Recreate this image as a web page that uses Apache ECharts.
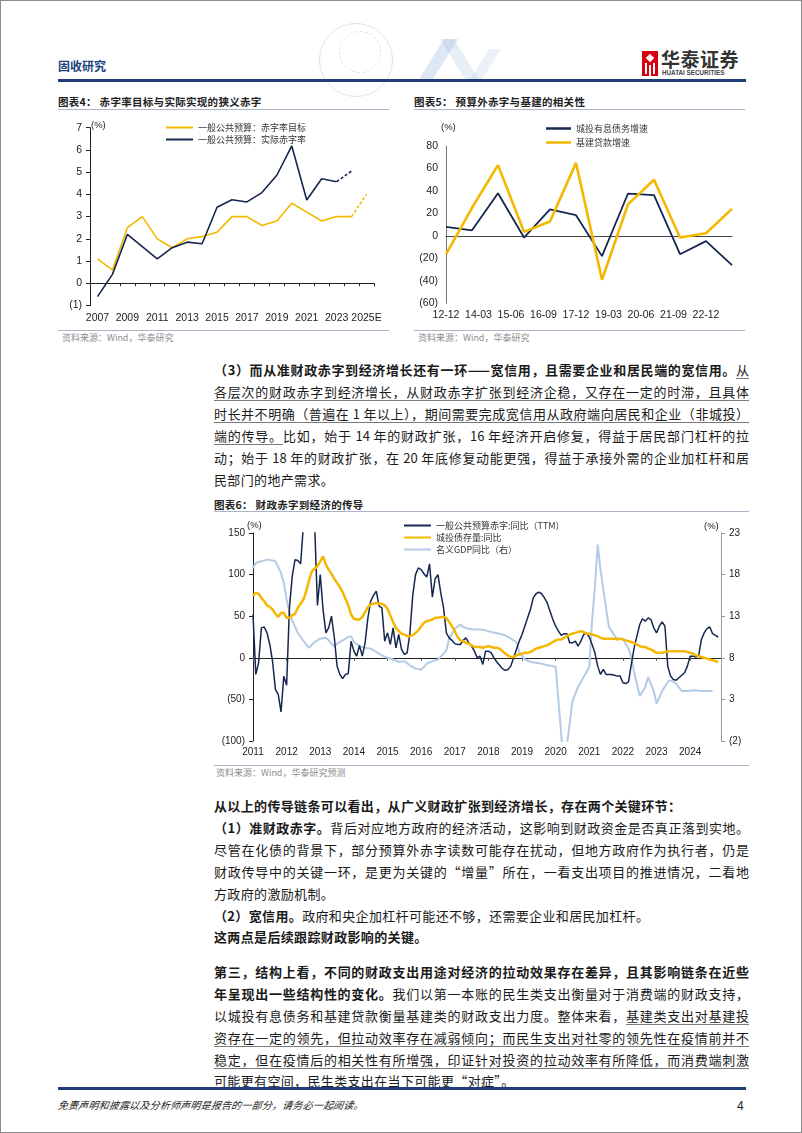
<!DOCTYPE html>
<html>
<head>
<meta charset="utf-8">
<script src="https://cdn.jsdelivr.net/npm/echarts@6/dist/echarts.min.js"></script>
<style>
html,body{margin:0;padding:0;background:#fff;}
#page{position:relative;width:802px;height:1133px;box-sizing:border-box;border:1px solid #8c8c8c;overflow:hidden;font-family:"Noto Sans CJK SC",sans-serif;color:#1a1a1a;background:#fff;}
.abs{position:absolute;}
.ln{position:absolute;left:213px;width:535px;font-size:13px;line-height:18px;height:18px;}
.j{text-align:justify;text-align-last:justify;}
.l{text-align:left;letter-spacing:0.35px;white-space:nowrap;}
.b{font-weight:700;}
.u{text-decoration:underline;text-decoration-color:#7a7a7a;text-decoration-thickness:1px;text-underline-offset:3px;}
.ctitle{position:absolute;font-size:10.5px;font-weight:700;color:#222;line-height:12px;white-space:nowrap;letter-spacing:0.3px;}
.rule{position:absolute;height:1px;background:#a9b4c6;}
.src{position:absolute;font-size:9px;color:#8d8d8d;line-height:10px;white-space:nowrap;}
</style>
</head>
<body>
<div id="page">
  <!-- header -->
  <div class="abs" style="left:318px;top:22px;width:72px;height:72px;border-radius:50%;border:1px solid rgba(150,170,205,0.35);"></div>
  <div class="abs" style="left:338px;top:30px;width:40px;height:40px;border-radius:50%;border:1px dashed rgba(150,170,205,0.35);"></div>
  <div class="abs" style="left:430px;top:38px;width:14px;height:42px;background:rgba(120,160,215,0.25);transform:skewX(-32deg);"></div>
  <div class="abs" style="left:452px;top:38px;width:14px;height:42px;background:rgba(150,180,220,0.22);transform:skewX(32deg);"></div>
  <div class="abs" style="left:478px;top:48px;width:12px;height:32px;background:rgba(180,200,225,0.25);transform:skewX(-32deg);"></div>
  <div class="abs" style="left:57px;top:57px;font-size:12px;font-weight:700;color:#1d3f7c;line-height:16px;">固收研究</div>
  <div class="abs" style="left:641px;top:50px;width:16px;height:25px;background:#d8000f;"></div>
  <div class="abs" style="left:646px;top:54px;width:6px;height:6px;background:#fff;transform:rotate(45deg);"></div>
  <div class="abs" style="left:644px;top:62px;width:2px;height:11px;background:#fff;"></div>
  <div class="abs" style="left:652px;top:62px;width:2px;height:11px;background:#fff;"></div>
  <div class="abs" style="left:648px;top:64px;width:2px;height:11px;background:#fff;"></div>
  <div class="abs" style="left:660px;top:47px;font-size:19px;font-weight:700;color:#333;line-height:22px;letter-spacing:0.5px;">华泰证券</div>
  <div class="abs" style="left:661px;top:68px;font-size:6.3px;font-weight:700;color:#444;line-height:8px;font-family:'Liberation Sans',Arial,sans-serif;">HUATAI SECURITIES</div>
  <div class="abs" style="left:57px;top:78px;width:688px;height:2.5px;background:#1e3d78;"></div>

  <!-- chart 4 -->
  <div class="ctitle" style="left:57px;top:95px;">图表4：&nbsp;赤字率目标与实际实现的狭义赤字</div>
  <div class="rule" style="left:57px;top:108px;width:331px;"></div>
  <div id="c4" class="abs" style="left:57px;top:110px;width:333px;height:218px;"></div>
  <div class="rule" style="left:57px;top:329px;width:331px;"></div>
  <div class="src" style="left:61px;top:332px;">资料来源：Wind，华泰研究</div>

  <!-- chart 5 -->
  <div class="ctitle" style="left:413px;top:95px;">图表5：&nbsp;预算外赤字与基建的相关性</div>
  <div class="rule" style="left:413px;top:108px;width:331px;"></div>
  <div id="c5" class="abs" style="left:413px;top:110px;width:332px;height:218px;"></div>
  <div class="rule" style="left:413px;top:329px;width:331px;"></div>
  <div class="src" style="left:417px;top:332px;">资料来源：Wind，华泰研究</div>

  <!-- paragraph 1 -->
  <div class="ln j" style="top:360px;"><span class="b">（3）而从准财政赤字到经济增长还有一环——宽信用，且需要企业和居民端的宽信用。</span><span class="u">从</span></div>
  <div class="ln j" style="top:382px;"><span class="u">各层次的财政赤字到经济增长，从财政赤字扩张到经济企稳，又存在一定的时滞，且具体</span></div>
  <div class="ln j" style="top:404px;"><span class="u">时长并不明确（普遍在 1 年以上），期间需要完成宽信用从政府端向居民和企业（非城投）</span></div>
  <div class="ln j" style="top:426px;"><span class="u">端的传导。</span>比如，始于 14 年的财政扩张，16 年经济开启修复，得益于居民部门杠杆的拉</div>
  <div class="ln j" style="top:448px;">动；始于 18 年的财政扩张，在 20 年底修复动能更强，得益于承接外需的企业加杠杆和居</div>
  <div class="ln l" style="top:470px;">民部门的地产需求。</div>

  <!-- chart 6 -->
  <div class="ctitle" style="left:213px;top:498px;">图表6：&nbsp;财政赤字到经济的传导</div>
  <div class="rule" style="left:213px;top:510px;width:535px;"></div>
  <div id="c6" class="abs" style="left:213px;top:513px;width:547px;height:250px;"></div>
  <div class="rule" style="left:213px;top:764px;width:535px;"></div>
  <div class="src" style="left:215px;top:767px;">资料来源：Wind，华泰研究预测</div>

  <!-- paragraph 2 -->
  <div class="ln l b" style="top:796px;">从以上的传导链条可以看出，从广义财政扩张到经济增长，存在两个关键环节：</div>
  <div class="ln j" style="top:818px;"><span class="b">（1）准财政赤字。</span>背后对应地方政府的经济活动，这影响到财政资金是否真正落到实地。</div>
  <div class="ln j" style="top:840px;">尽管在化债的背景下，部分预算外赤字读数可能存在扰动，但地方政府作为执行者，仍是</div>
  <div class="ln j" style="top:862px;">财政传导中的关键一环，是更为关键的“增量”所在，一看支出项目的推进情况，二看地</div>
  <div class="ln l" style="top:884px;">方政府的激励机制。</div>
  <div class="ln l" style="top:906px;"><span class="b">（2）宽信用。</span>政府和央企加杠杆可能还不够，还需要企业和居民加杠杆。</div>
  <div class="ln l b" style="top:927px;">这两点是后续跟踪财政影响的关键。</div>

  <!-- paragraph 3 -->
  <div class="ln j b" style="top:962px;">第三，结构上看，不同的财政支出用途对经济的拉动效果存在差异，且其影响链条在近些</div>
  <div class="ln j" style="top:984px;"><span class="b">年呈现出一些结构性的变化。</span>我们以第一本账的民生类支出衡量对于消费端的财政支持，</div>
  <div class="ln j" style="top:1006px;">以城投有息债务和基建贷款衡量基建类的财政支出力度。整体来看，<span class="u">基建类支出对基建投</span></div>
  <div class="ln j" style="top:1028px;"><span class="u">资存在一定的领先，但拉动效率存在减弱倾向；而民生支出对社零的领先性在疫情前并不</span></div>
  <div class="ln j" style="top:1050px;"><span class="u">稳定，但在疫情后的相关性有所增强，印证针对投资的拉动效率有所降低，而消费端刺激</span></div>
  <div class="ln l" style="top:1071px;"><span class="u">可能更有空间，民生类支出在当下可能更“对症”。</span></div>

  <!-- footer -->
  <div class="abs" style="left:57px;top:1086px;width:688px;height:2.5px;background:#1e3d78;"></div>
  <div class="abs" style="left:57px;top:1097px;font-size:10px;letter-spacing:0.2px;font-style:italic;color:#222;line-height:14px;transform:skewX(-8deg);transform-origin:left center;">免责声明和披露以及分析师声明是报告的一部分，请务必一起阅读。</div>
  <div class="abs" style="left:736px;top:1097px;font-size:12px;color:#222;line-height:16px;font-family:'Liberation Sans',Arial,sans-serif;">4</div>
</div>

<script>
// ---------- Chart 4 data ----------
const years4 = ['2007','2008','2009','2010','2011','2012','2013','2014','2015','2016','2017','2018','2019','2020','2021','2022','2023','2024','2025E'];
const deficitTarget = [1.1, 0.6, 2.5, 3.0, 2.0, 1.6, 2.0, 2.1, 2.3, 3.0, 3.0, 2.6, 2.8, 3.6, 3.2, 2.8, 3.0, 3.0, 4.0];
const deficitActual = [-0.6, 0.4, 2.2, 1.65, 1.1, 1.6, 1.85, 1.78, 3.42, 3.76, 3.66, 4.08, 4.86, 6.18, 3.75, 4.7, 4.57, 5.05];
const yTicks4 = {min: -1, max: 7, interval: 1};

// ---------- Chart 5 data ----------
const quarters5 = ['12-12','13-03','13-06','13-09','13-12','14-03','14-06','14-09','14-12','15-03','15-06','15-09','15-12',
  '16-03','16-06','16-09','16-12','17-03','17-06','17-09','17-12','18-03','18-06','18-09','18-12','19-03','19-06','19-09','19-12',
  '20-03','20-06','20-09','20-12','21-03','21-06','21-09','21-12','22-03','22-06','22-09','22-12','23-03','23-06','23-09','23-12'];
const points5 = ['12-12','13-12','14-12','15-12','16-12','17-12','18-12','19-12','20-12','21-12','22-12','23-12'];
const urbanDebtGrowth = [8, 5, 38, -1.5, 23.5, 18.4, -18, 37.7, 36.2, -16.3, -4.7, -26];
const infraLoanGrowth = [-16.5, 25, 63, 3.6, 12.8, 65, -39, 28, 50, -1.5, 2.4, 24];
const yTicks5 = {min: -60, max: 80, interval: 20};

// ---------- Chart 6 data ----------
const months6 = [];
for (let y = 2011; y <= 2024; y++) for (let mo = 1; mo <= 12; mo++) months6.push(y + '-' + (mo < 10 ? '0' + mo : '' + mo));
const deficitYoY = [
  52, -20, -6, 36, 37, 30, 16, -5, -38, -44, -65, -22,
  -33, 60, 98, 118, 117, 113, 160, 210, 220, 200, 160, 63,
  100, 58, 30, 36, 50, 25, -10, -20, -25, -20, -19, 20,
  8, 2, 15, 2, 18, 48, 68, 75, 80, 62, 60, 20,
  30, 16, 36, 12, 28, 10, 4, 6, 30, 75, 100, 108,
  106, 101, 97, 113, 73, 95, 100, 78, 60, 30, 24, 21,
  17, 16, 16, 21, 24, 18, 14, 8, 0, 2, -8, 8,
  8, 6, 0, -5, -9, -13, -15, -14, -10, 0, 10, 20,
  28, 38, 48, 58, 72, 77, 79, 77, 72, 66, 56, 46,
  38, 32, 27, 29, 29, 18, 18, 20, 14, 20, 28, 30,
  25, 16, 6, -10, -20, -14, -20, -20, -20, -21, -22, -22,
  -30, -31, -29, -8, 12, 26, 40, 47, 44, 48, 46, 36,
  30, 38, 43, 38, -10, -22, -26, -27, -24, -21, -18, -10,
  2, 2, 1, 2, 22, 30, 35, 37, 29, 27, 25, null
];
const urbanBondYoY = [
  75, 78, 77, 72, 68, 63, 61, 58, 53, 49, 54, 54,
  48, 48, 51, 53, 60, 65, 70, 80, 93, 104, 107, 110,
  116, 122, 112, 106, 101, 95, 90, 85, 79, 71, 63, 52,
  47, 46, 46, 49, 55, 61, 64, 65, 66, 65, 65, 63,
  59, 51, 43, 36, 32, 29, 28, 26, 26, 27, 30, 33,
  38, 42, 44, 45, 46, 48, 48, 49, 49, 48, 43, 38,
  32, 25, 21, 20, 18, 17, 15, 13, 13, 13, 12, 13,
  14, 13, 12, 12, 11, 8, 5, 3, 1, 1, 3, 4,
  5, 6, 6, 7, 9, 11, 12, 13, 14, 15, 17, 19,
  21, 22, 22, 24, 26, 28, 29, 30, 31, 32, 31, 29,
  29, 28, 27, 26, 24, 23, 23, 23, 23, 23, 22, 23,
  22, 21, 20, 19, 18, 16, 14, 13, 13, 11, 10, 8,
  6, 6, 6, 7, 8, 8, 8, 8, 8, 8, 8, 7,
  6, 5, 3, 2, 1, 0, -1, -2, -3, -4, -5, null
];
const gdpMonths = ['2011-01','2011-02','2011-04','2011-06','2011-08','2011-09','2011-11','2011-12',
  '2012-01','2012-02','2012-03','2012-05','2012-06','2012-08','2012-09','2012-11',
  '2013-01','2013-03','2013-04','2013-05','2013-06','2013-07','2013-09','2013-11','2013-12',
  '2014-01','2014-03','2014-05','2014-07','2014-09','2014-11',
  '2015-01','2015-03','2015-05','2015-07','2015-09','2015-11',
  '2016-01','2016-02','2016-03','2016-05','2016-07','2016-08','2016-10','2016-11',
  '2017-01','2017-03','2017-04','2017-06','2017-08','2017-10','2017-12',
  '2018-02','2018-05','2018-07','2018-09','2018-11','2018-12',
  '2019-02','2019-04','2019-06','2019-08','2019-10','2019-12',
  '2020-01','2020-04','2020-07','2020-09','2020-11',
  '2021-01','2021-02','2021-03','2021-04','2021-05','2021-07','2021-08','2021-10','2021-11',
  '2022-01','2022-03','2022-04','2022-05','2022-07','2022-09','2022-10','2022-12',
  '2023-01','2023-03','2023-05','2023-06','2023-08','2023-10','2023-12',
  '2024-02','2024-05','2024-07','2024-09'];
const gdpValues = [18.8, 19.4, 19.6, 19.8, 19.7, 19.6, 18.2, 17,
  15, 13.5, 12.5, 11, 10.5, 9.6, 9.2, 9.9,
  10.3, 10.4, 10.1, 9.7, 9.4, 9.7, 10.1, 10.5, 10.6,
  9.9, 9.4, 9.2, 9.1, 8.7, 8.3,
  8.0, 7.8, 7.5, 7.6, 7.1, 6.7,
  6.6, 6.9, 7.3, 7.6, 7.8, 8.1, 8.9, 10.3,
  11.5, 12.0, 11.7, 11.5, 11.4, 11.4, 11.3,
  11.1, 10.9, 10.7, 10.3, 9.9, 8.7,
  7.8, 7.5, 7.4, 7.3, 7.1, 7.0,
  6.9, -5.3, 2.8, 4.5, 5.7,
  6.9, 12.5, 16.5, 21.6, 18.6, 13.9, 11.7, 10.7, 10.3,
  10.3, 9.1, 8.1, 6.3, 3.4, 4.5, 5.7, 4.0,
  2.5, 4.0, 5.1, 5.3, 4.9, 4.0, 4.0,
  4.1, 4.0, 4.0, 4.0];
const yTicks6L = {min: -100, max: 150, interval: 50};
const yTicks6R = {min: -2, max: 23, interval: 5};

// ---------- styles ----------
const NAVY = '#15274f', GOLD = '#f5b800', LIGHT = '#b3cbe5';
const NUM = "'Liberation Sans', Arial, sans-serif";
const CJK = "'Noto Sans CJK SC', sans-serif";
const fmtNeg = v => v < 0 ? '(' + (-v) + ')' : String(v);

function valueAxis(t, extra) {
  return Object.assign({
    type: 'value', min: t.min, max: t.max, interval: t.interval,
    axisLine: {show: true, lineStyle: {color: '#222', width: 1}},
    axisTick: {show: true, length: 4, lineStyle: {color: '#222'}},
    splitLine: {show: false},
    axisLabel: {formatter: fmtNeg, color: '#222', fontSize: 10.5, fontFamily: NUM, margin: 8}
  }, extra || {});
}

// ---------- Chart 4 ----------
(function () {
  const c = echarts.init(document.getElementById('c4'), null, {renderer: 'canvas'});
  const tSolid = deficitTarget.map((v, i) => i <= 17 ? v : null);
  const tDash = deficitTarget.map((v, i) => i >= 17 ? v : null);
  const aSolid = deficitActual.map((v, i) => i <= 16 ? v : null);
  const aDash = deficitActual.map((v, i) => i >= 16 ? v : null);
  c.setOption({
    animation: false,
    grid: {left: 32, right: 17, top: 16.7, bottom: 23.5, outerBoundsMode: 'none'},
    legend: {
      data: ['一般公共预算：赤字率目标', '一般公共预算：实际赤字率'],
      orient: 'vertical', left: 103, top: 7, itemWidth: 27, itemHeight: 2, itemGap: 3, icon: 'rect',
      textStyle: {fontSize: 9, color: '#333', fontFamily: CJK}
    },
    graphic: [{type: 'text', left: 33, top: 9, style: {text: '(%)', fontSize: 9.5, fill: '#222', fontFamily: NUM}}],
    xAxis: [
      {type: 'category', data: years4, boundaryGap: true,
        axisLine: {show: false, onZero: false}, axisTick: {show: false},
        axisLabel: {interval: 1, color: '#222', fontSize: 10.5, fontFamily: NUM, margin: 7}},
      {type: 'category', data: years4, boundaryGap: true, position: 'bottom',
        axisLine: {show: true, onZero: true, onZeroAxisIndex: 0, lineStyle: {color: '#222', width: 1}},
        axisTick: {show: true, interval: 0, length: 3, lineStyle: {color: '#222'}},
        axisLabel: {show: false}}
    ],
    yAxis: valueAxis(yTicks4),
    series: [
      {name: '一般公共预算：赤字率目标', type: 'line', data: tSolid, symbol: 'none', lineStyle: {color: GOLD, width: 1.6}, itemStyle: {color: GOLD}},
      {name: '目标(预测)', type: 'line', data: tDash, symbol: 'none', lineStyle: {color: GOLD, width: 1.6, type: [3, 2]}, itemStyle: {color: GOLD}},
      {name: '一般公共预算：实际赤字率', type: 'line', data: aSolid, symbol: 'none', lineStyle: {color: NAVY, width: 1.6}, itemStyle: {color: NAVY}},
      {name: '实际(预测)', type: 'line', data: aDash, symbol: 'none', lineStyle: {color: NAVY, width: 1.6, type: [3, 2]}, itemStyle: {color: NAVY}}
    ]
  });
})();

// ---------- Chart 5 ----------
(function () {
  const c = echarts.init(document.getElementById('c5'), null, {renderer: 'canvas'});
  c.setOption({
    animation: false,
    grid: {left: 32, right: 14, top: 35, bottom: 25.7, outerBoundsMode: 'none'},
    legend: {
      data: ['城投有息债务增速', '基建贷款增速'],
      orient: 'vertical', left: 127, top: 8, itemWidth: 25, itemHeight: 2.5, itemGap: 5, icon: 'rect',
      textStyle: {fontSize: 9, color: '#333', fontFamily: CJK}
    },
    graphic: [{type: 'text', left: 27, top: 11, style: {text: '(%)', fontSize: 9.5, fill: '#222', fontFamily: NUM}}],
    xAxis: [
      {type: 'category', data: quarters5, boundaryGap: false,
        axisLine: {show: false, onZero: false}, axisTick: {show: false},
        axisLabel: {interval: 4, color: '#222', fontSize: 10.5, fontFamily: NUM, margin: 6}},
      {type: 'category', data: quarters5, boundaryGap: false, position: 'bottom',
        axisLine: {show: true, onZero: true, onZeroAxisIndex: 0, lineStyle: {color: '#444', width: 1}},
        axisTick: {show: false}, axisLabel: {show: false}}
    ],
    yAxis: valueAxis(yTicks5, {axisLine: {show: true, lineStyle: {color: '#777', width: 1}}, axisTick: {show: false}}),
    series: [
      {name: '城投有息债务增速', type: 'line', data: points5.map((q, i) => [q, urbanDebtGrowth[i]]), symbol: 'none',
        lineStyle: {color: NAVY, width: 1.8}, itemStyle: {color: NAVY}},
      {name: '基建贷款增速', type: 'line', data: points5.map((q, i) => [q, infraLoanGrowth[i]]), symbol: 'none',
        lineStyle: {color: GOLD, width: 2.6}, itemStyle: {color: GOLD}}
    ]
  });
})();

// ---------- Chart 6 ----------
(function () {
  const c = echarts.init(document.getElementById('c6'), null, {renderer: 'canvas'});
  const isJan = (i, v) => String(v).slice(5) === '01';
  c.setOption({
    animation: false,
    grid: {left: 39, right: 40, top: 19, bottom: 23, outerBoundsMode: 'none'},
    legend: {
      data: ['一般公共预算赤字:同比（TTM）', '城投债存量:同比', '名义GDP同比（右）'],
      orient: 'vertical', left: 185, top: 2, itemWidth: 27, itemHeight: 2, itemGap: 3, icon: 'rect',
      textStyle: {fontSize: 9, color: '#333', fontFamily: CJK}
    },
    graphic: [
      {type: 'text', left: 33, top: 6, style: {text: '(%)', fontSize: 9.5, fill: '#222', fontFamily: NUM}},
      {type: 'text', left: 490, top: 7, style: {text: '(%)', fontSize: 9.5, fill: '#222', fontFamily: NUM}}
    ],
    xAxis: [
      {type: 'category', data: months6, boundaryGap: false,
        axisLine: {show: false, onZero: false}, axisTick: {show: false},
        axisLabel: {interval: isJan, formatter: v => v.slice(0, 4), color: '#222', fontSize: 10, fontFamily: NUM, margin: 6}},
      {type: 'category', data: months6, boundaryGap: false, position: 'bottom',
        axisLine: {show: true, onZero: true, onZeroAxisIndex: 0, lineStyle: {color: '#222', width: 1}},
        axisTick: {show: true, interval: isJan, length: 3, lineStyle: {color: '#555'}},
        axisLabel: {show: false}}
    ],
    yAxis: [
      valueAxis(yTicks6L, {position: 'left', axisLabel: {formatter: fmtNeg, color: '#222', fontSize: 10, fontFamily: NUM, margin: 8}}),
      valueAxis(yTicks6R, {position: 'right', axisLine: {show: true, lineStyle: {color: '#9a9a9a', width: 1}},
        axisTick: {show: true, length: 4, lineStyle: {color: '#9a9a9a'}},
        axisLabel: {formatter: fmtNeg, color: '#222', fontSize: 10, fontFamily: NUM, margin: 8}})
    ],
    series: [
      {name: '名义GDP同比（右）', type: 'line', yAxisIndex: 1, data: gdpMonths.map((m, i) => [m, gdpValues[i]]), symbol: 'none',
        lineStyle: {color: LIGHT, width: 2}, itemStyle: {color: LIGHT}, clip: true},
      {name: '一般公共预算赤字:同比（TTM）', type: 'line', yAxisIndex: 0, data: deficitYoY, symbol: 'none',
        lineStyle: {color: NAVY, width: 1.5}, itemStyle: {color: NAVY}, clip: true},
      {name: '城投债存量:同比', type: 'line', yAxisIndex: 0, data: urbanBondYoY, symbol: 'none',
        lineStyle: {color: GOLD, width: 2.5}, itemStyle: {color: GOLD}, clip: true}
    ]
  });
})();
</script>
</body>
</html>
